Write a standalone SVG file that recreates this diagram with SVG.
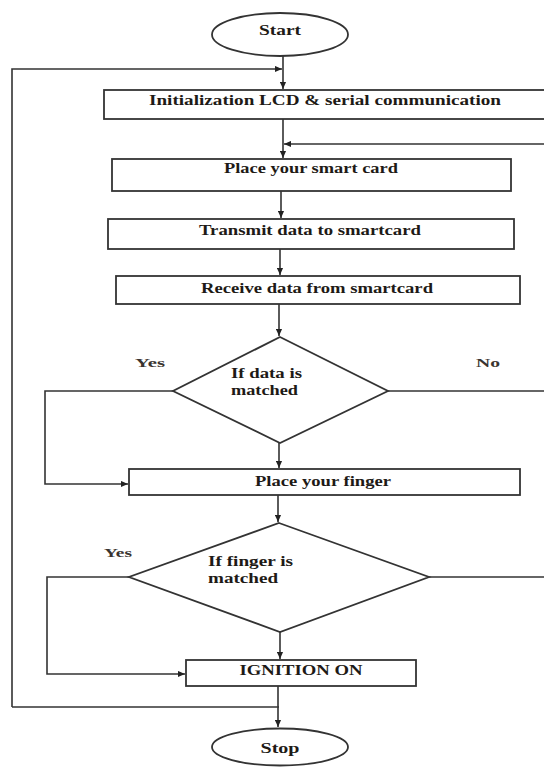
<svg xmlns="http://www.w3.org/2000/svg" width="544" height="767" viewBox="0 0 544 767">
<defs>
<marker id="ah" viewBox="0 0 8 8" refX="8" refY="4" markerWidth="7" markerHeight="7" markerUnits="userSpaceOnUse" orient="auto">
<path d="M0,0.5 L8,4 L0,7.5 Z" fill="#222"/>
</marker>
<style>
.box{fill:#fff;stroke:#333;stroke-width:1.8}
.ln{fill:none;stroke:#333;stroke-width:1.6}
.t{font-family:"Liberation Serif","Times New Roman",serif;font-weight:bold;font-size:14px;fill:#1e1a16}
.lbl{font-family:"Liberation Serif","Times New Roman",serif;font-weight:bold;font-size:13px;fill:#3a3430}
</style>
</defs>
<rect width="544" height="767" fill="#fff"/>
<g id="connectors">
<path class="ln" d="M283,56 V89" marker-end="url(#ah)"/>
<path class="ln" d="M12,707 V69 H282" marker-end="url(#ah)"/>
<path class="ln" d="M283,119 V158" marker-end="url(#ah)"/>
<path class="ln" d="M546,144 H284" marker-end="url(#ah)"/>
<path class="ln" d="M281,191 V218" marker-end="url(#ah)"/>
<path class="ln" d="M280,249 V275" marker-end="url(#ah)"/>
<path class="ln" d="M279,304 V336" marker-end="url(#ah)"/>
<path class="ln" d="M173,391 H45 V484 H128" marker-end="url(#ah)"/>
<path class="ln" d="M388,391 H546"/>
<path class="ln" d="M279,443 V468" marker-end="url(#ah)"/>
<path class="ln" d="M278,495 V522" marker-end="url(#ah)"/>
<path class="ln" d="M129,577 H47 V674 H185" marker-end="url(#ah)"/>
<path class="ln" d="M429,577 H546"/>
<path class="ln" d="M280,632 V659" marker-end="url(#ah)"/>
<path class="ln" d="M278,686 V727" marker-end="url(#ah)"/>
<path class="ln" d="M12,707 H279"/>
</g>
<g id="start">
<ellipse class="box" cx="280" cy="34.5" rx="68" ry="21.5"/>
<text class="t" x="280" y="35" text-anchor="middle" textLength="42" lengthAdjust="spacingAndGlyphs">Start</text>
</g>
<g id="init">
<rect class="box" x="104" y="90" width="445" height="29"/>
<text class="t" x="325" y="105" text-anchor="middle" textLength="352" lengthAdjust="spacingAndGlyphs">Initialization LCD &amp; serial communication</text>
</g>
<g id="place-card">
<rect class="box" x="112" y="159" width="399" height="32"/>
<text class="t" x="311" y="173" text-anchor="middle" textLength="174" lengthAdjust="spacingAndGlyphs">Place your smart card</text>
</g>
<g id="transmit">
<rect class="box" x="108" y="219" width="406" height="30"/>
<text class="t" x="310" y="235" text-anchor="middle" textLength="222" lengthAdjust="spacingAndGlyphs">Transmit data to smartcard</text>
</g>
<g id="receive">
<rect class="box" x="116" y="276" width="404" height="28"/>
<text class="t" x="317" y="293" text-anchor="middle" textLength="232" lengthAdjust="spacingAndGlyphs">Receive data from smartcard</text>
</g>
<g id="data-match">
<polygon class="box" points="280,337 388,391 280,443 173,391"/>
<text class="t" x="231" y="378" textLength="71" lengthAdjust="spacingAndGlyphs">If data is</text>
<text class="t" x="231" y="395" textLength="67" lengthAdjust="spacingAndGlyphs">matched</text>
</g>
<g id="labels">
<text class="lbl" x="135" y="367" textLength="30" lengthAdjust="spacingAndGlyphs">Yes</text>
<text class="lbl" x="476" y="367" textLength="24" lengthAdjust="spacingAndGlyphs">No</text>
<text class="lbl" x="104" y="557" textLength="28" lengthAdjust="spacingAndGlyphs">Yes</text>
</g>
<g id="place-finger">
<rect class="box" x="129" y="469" width="391" height="26"/>
<text class="t" x="323" y="486" text-anchor="middle" textLength="136" lengthAdjust="spacingAndGlyphs">Place your finger</text>
</g>
<g id="finger-match">
<polygon class="box" points="279,523 429,577 280,632 129,577"/>
<text class="t" x="208" y="566" textLength="85" lengthAdjust="spacingAndGlyphs">If finger is</text>
<text class="t" x="208" y="583" textLength="70" lengthAdjust="spacingAndGlyphs">matched</text>
</g>
<g id="ignition">
<rect class="box" x="186" y="660" width="230" height="26"/>
<text class="t" x="301" y="675" text-anchor="middle" textLength="123" lengthAdjust="spacingAndGlyphs">IGNITION ON</text>
</g>
<g id="stop">
<ellipse class="box" cx="280" cy="747" rx="68" ry="18.5"/>
<text class="t" x="280" y="753" text-anchor="middle" textLength="39" lengthAdjust="spacingAndGlyphs">Stop</text>
</g>
</svg>
